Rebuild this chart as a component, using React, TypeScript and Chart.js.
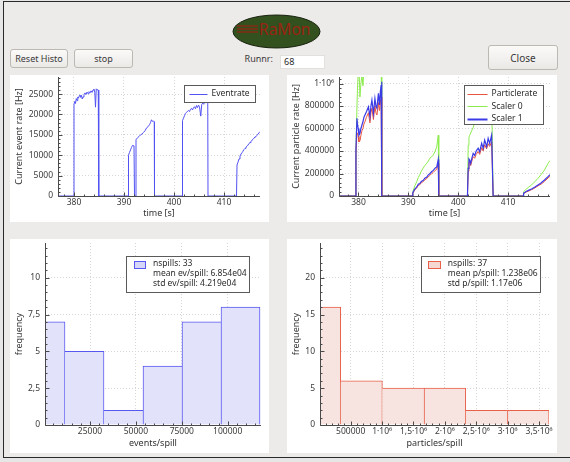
import React, { useEffect, useRef } from "react";
import { Chart, registerables } from "chart.js";

Chart.register(...registerables);

const FONT = '"Noto Sans", "Open Sans", "DejaVu Sans", sans-serif';

// ---------- Event rate (top left) ----------
const eventTime = [
  376.8, 379.95,
  380.0, 380.15, 380.3, 380.45, 380.6, 380.75, 380.9, 381.05, 381.2, 381.35, 381.5, 381.65, 381.8, 382.0, 382.2,
  382.4, 382.6, 382.8, 383.0, 383.2, 383.4, 383.6, 383.8, 384.0, 384.15, 384.3, 384.45, 384.6, 384.85, 384.95,
  390.8,
  390.9, 391.1, 391.3, 391.5, 391.7, 392.0, 392.1, 392.3, 392.4, 392.7, 393.0, 393.3, 393.6, 393.9, 394.2, 394.5,
  394.8, 395.1, 395.3, 395.5, 395.7, 395.9, 396.05, 396.1,
  401.6,
  401.7, 401.9, 402.1, 402.3, 402.5, 402.7, 402.9, 403.1, 403.3, 403.5, 403.7, 403.9, 404.1, 404.3, 404.5, 404.7,
  404.9, 405.1, 405.35, 405.55, 405.75, 405.95, 406.15, 406.35, 406.55, 406.75, 406.8,
  412.5,
  412.6, 412.8, 413.0, 413.2, 413.4, 413.6, 413.8, 414.0, 414.2, 414.4, 414.6, 414.8, 415.0, 415.2, 415.4, 415.6,
  415.8, 416.0, 416.2, 416.4, 416.6, 416.8, 417.0, 417.2,
];
const eventRate = [
  0, 0,
  22500, 23200, 22700, 23900, 23400, 24300, 24000, 24600, 24800, 24200, 24700, 23800, 24300, 24900, 25300,
  24900, 25500, 25100, 25600, 25300, 25800, 25400, 26000, 26200, 25500, 21800, 26300, 26100, 26000, 0,
  0,
  10000, 10700, 11300, 11900, 12400, 12300, 0, 0, 13800, 14300, 14600, 15000, 15200, 15600, 16000, 16700,
  17000, 17500, 18000, 18700, 18300, 18400, 18200, 0,
  0,
  18500, 19100, 19700, 20300, 20500, 20800, 21000, 20700, 21300, 21500, 21100, 21700, 21900, 21400, 22200, 21700,
  22300, 21900, 19600, 22500, 22800, 22500, 23200, 22800, 23300, 23100, 0,
  0,
  7600, 8300, 9100, 9800, 10300, 10600, 11000, 11400, 11700, 12000, 12200, 12500, 12900, 13100, 13400, 13700,
  13900, 14200, 14500, 14600, 14900, 15200, 15500, 15800,
];

// ---------- Particle rate (top right) ----------
const particleTime = [
  376.1, 379.4,
  379.5, 379.7, 379.8, 379.95, 380.1, 380.3, 380.5, 380.7, 380.9, 381.1, 381.3, 381.6, 382.0,
  382.3, 382.5, 382.7, 383.0, 383.3, 383.5, 383.7, 384.0, 384.2, 384.4, 384.55, 384.65, 384.7,
  390.8,
  390.9, 391.3, 391.7, 392.0, 392.3, 392.6, 393.0, 393.3, 393.7, 394.0, 394.3, 394.7, 395.0, 395.4, 395.7, 396.0, 396.1,
  401.85,
  402.0, 402.15, 402.3, 402.5, 402.7, 403.0, 403.3, 403.6, 404.0, 404.3, 404.7, 405.0, 405.3, 405.7, 406.0, 406.3, 406.7, 407.0,
  413.0,
  413.1, 413.6, 414.2, 414.7, 415.3, 416.0, 416.6, 417.3, 418.0, 418.4,
];
const particleRate = [
  0, 0,
  380000, 560000, 560000, 530000, 480000, 490000, 540000, 580000, 600000, 640000, 660000, 700000, 740000,
  650000, 740000, 780000, 680000, 800000, 740000, 720000, 830000, 760000, 840000, 860000, 880000, 0,
  0,
  25000, 55000, 72000, 95000, 100000, 118000, 128000, 145000, 155000, 172000, 182000, 200000, 210000, 228000, 238000, 290000, 0,
  0,
  220000, 300000, 295000, 270000, 305000, 350000, 335000, 370000, 395000, 370000, 430000, 400000, 455000, 420000, 465000, 440000, 480000, 0,
  0,
  20000, 35000, 46000, 56000, 70000, 90000, 105000, 130000, 160000, 175000,
];
const scaler0Rate = [
  0, 0,
  420000, 800000, 950000, 1100000, 1150000, 880000, 1000000, 1080000, 980000, 1120000, 1150000, 1200000, 1250000,
  1180000, 1250000, 1300000, 1220000, 1320000, 1280000, 1250000, 1350000, 1300000, 1380000, 1400000, 1420000, 0,
  0,
  40000, 90000, 130000, 165000, 190000, 220000, 250000, 270000, 292000, 310000, 335000, 350000, 365000, 400000, 440000, 540000, 0,
  0,
  450000, 520000, 540000, 560000, 580000, 610000, 650000, 690000, 740000, 720000, 790000, 760000, 830000, 790000, 860000, 820000, 880000, 0,
  0,
  38000, 60000, 82000, 98000, 125000, 157000, 190000, 231000, 290000, 315000,
];
const scaler1Rate = [
  0, 0,
  420000, 690000, 640000, 600000, 540000, 557000, 600000, 631000, 660000, 700000, 720000, 750000, 794000,
  705000, 800000, 853000, 735000, 868000, 800000, 780000, 913000, 809000, 930000, 987000, 1016000, 0,
  0,
  30000, 62000, 80000, 104000, 110000, 130000, 140000, 158000, 168000, 188000, 198000, 218000, 228000, 250000, 258000, 325000, 0,
  0,
  246000, 330000, 320000, 290000, 330000, 379000, 360000, 400000, 424000, 394000, 468000, 424000, 498000, 438000, 513000, 468000, 542000, 0,
  0,
  24000, 40000, 52000, 62000, 78000, 98000, 115000, 142000, 172000, 190000,
];

// ---------- Histograms ----------
const eventBinCenters = [759, 22003, 43246, 64489, 85732, 106975];
const eventBinCounts = [7, 5, 1, 4, 7, 8];
const particleBinCenters = [8700, 672700, 1336700, 2000700, 2664700, 3328700];
const particleBinCounts = [16, 6, 5, 5, 2, 2];
const eventStats = ["nspills: 33", "mean ev/spill: 6.854e04", "std ev/spill: 4.219e04"];
const particleStats = ["nspills: 37", "mean p/spill: 1.238e06", "std p/spill: 1.17e06"];

const fmtPlain = (v: number) => String(v);
const fmtComma = (v: number) => String(v).replace(".", ",");
const fmtSci = (v: number) => (v < 1e6 ? String(v) : String(v / 1e6).replace(".", ",") + "·10⁶");

const decorPlugin = {
  id: "decor",
  afterDatasetsDraw(chart: any, _args: any, opts: any) {
    const ctx: CanvasRenderingContext2D = chart.ctx;
    const area = chart.chartArea;
    const xs = chart.scales.x;
    const ys = chart.scales.y;
    ctx.save();
    const L = Math.round(area.left) + 0.5;
    const B = Math.round(area.bottom) + 0.5;
    ctx.strokeStyle = "#4a4a4a";
    ctx.lineWidth = 1;
    ctx.beginPath();
    ctx.moveTo(L, area.top);
    ctx.lineTo(L, B);
    ctx.lineTo(area.right, B);
    ctx.stroke();
    const drawTicks = (scale: any, minor: number, major: number, horizontal: boolean) => {
      const start = Math.ceil(scale.min / minor - 1e-9);
      for (let k = start; k * minor <= scale.max + 1e-9; k++) {
        const v = k * minor;
        const r = v / major;
        const isMajor = Math.abs(r - Math.round(r)) < 1e-6;
        const len = isMajor ? 4 : 2;
        const p = Math.round(scale.getPixelForValue(v)) + 0.5;
        ctx.beginPath();
        if (horizontal) {
          ctx.moveTo(p, B);
          ctx.lineTo(p, B - len);
        } else {
          ctx.moveTo(L, p);
          ctx.lineTo(L + len, p);
        }
        ctx.stroke();
      }
    };
    drawTicks(xs, opts.xMinor, opts.xMajor, true);
    drawTicks(ys, opts.yMinor, opts.yMajor, false);

    const lg = opts.legend;
    if (lg) {
      ctx.font = `${lg.fontSize}px ${FONT}`;
      const texts: string[] = lg.type === "lines" ? lg.items.map((i: any) => i.text) : lg.lines;
      const tw = Math.max(...texts.map((t) => ctx.measureText(t).width));
      const w = Math.round(lg.padL + lg.sample + lg.gap + tw + lg.padR);
      const x0 = Math.round(area.right - lg.right - w) + 0.5;
      const y0 = Math.round(area.top + lg.top) + 0.5;
      ctx.fillStyle = "#ffffff";
      ctx.fillRect(x0, y0, w, lg.h);
      ctx.strokeStyle = "#5a5a5a";
      ctx.lineWidth = 1;
      ctx.strokeRect(x0, y0, w, lg.h);
      ctx.textBaseline = "middle";
      ctx.textAlign = "left";
      const tx = x0 + lg.padL + lg.sample + lg.gap;
      if (lg.type === "lines") {
        lg.items.forEach((it: any, i: number) => {
          const cy = y0 + lg.firstRow + i * lg.rowH;
          ctx.strokeStyle = it.color;
          ctx.lineWidth = it.width;
          ctx.beginPath();
          ctx.moveTo(x0 + lg.padL, Math.round(cy) + 0.5);
          ctx.lineTo(x0 + lg.padL + lg.sample, Math.round(cy) + 0.5);
          ctx.stroke();
          ctx.fillStyle = "#2a2a2a";
          ctx.fillText(it.text, tx, cy);
        });
      } else {
        ctx.fillStyle = lg.fill;
        ctx.fillRect(Math.round(x0 + lg.padL), Math.round(y0 + lg.rectY), lg.sample, lg.rectH);
        ctx.strokeStyle = lg.stroke;
        ctx.lineWidth = 1;
        ctx.strokeRect(Math.round(x0 + lg.padL) + 0.5, Math.round(y0 + lg.rectY) + 0.5, lg.sample - 1, lg.rectH - 1);
        ctx.fillStyle = "#2a2a2a";
        lg.lines.forEach((t: string, i: number) => {
          ctx.fillText(t, tx, y0 + lg.firstRow + i * lg.rowH);
        });
      }
    }
    ctx.restore();
  },
};

function makeScale(
  min: number,
  max: number,
  step: number,
  title: string,
  fmt: (v: number) => string,
  fitSize: number,
  horizontal: boolean,
  titlePad: any
) {
  return {
    type: "linear",
    min,
    max,
    offset: false,
    ticks: {
      stepSize: step,
      includeBounds: false,
      autoSkip: false,
      maxRotation: 0,
      minRotation: 0,
      padding: horizontal ? 1 : 5,
      color: "#3a3a3a",
      font: { family: FONT, size: 8.5 },
      callback: (v: any) => fmt(Number(v)),
    },
    grid: { color: "#d6d6d6", lineWidth: 1, drawTicks: false, offset: false },
    border: { display: false, dash: [1, 2] },
    title: { display: true, text: title, color: "#333", font: { family: FONT, size: 9 }, padding: titlePad },
    afterBuildTicks: (s: any) => {
      const ticks: any[] = [];
      const start = Math.ceil(min / step - 1e-9);
      for (let k = start; k * step <= max + 1e-9; k++) ticks.push({ value: k * step });
      s.ticks = ticks;
    },
    afterFit: (s: any) => {
      if (horizontal) {
        s.height = fitSize;
        s.paddingLeft = 0;
        s.paddingRight = 0;
      } else {
        s.width = fitSize;
        s.paddingTop = 0;
        s.paddingBottom = 0;
      }
    },
  };
}

const commonOpts = {
  animation: false,
  responsive: false,
  maintainAspectRatio: false,
  events: [],
};

function eventRateConfig(): any {
  return {
    type: "line",
    data: {
      datasets: [
        {
          label: "Eventrate",
          data: eventTime.map((t, i) => ({ x: t, y: eventRate[i] })),
          borderColor: "#5252f2",
          borderWidth: 1,
          pointRadius: 0,
          tension: 0,
          fill: false,
        },
      ],
    },
    options: {
      ...commonOpts,
      layout: { padding: { top: 2, right: 9, left: 0, bottom: 0 } },
      plugins: {
        legend: { display: false },
        tooltip: { enabled: false },
        decor: {
          xMinor: 2, xMajor: 10, yMinor: 1000, yMajor: 5000,
          legend: {
            type: "lines", fontSize: 8.5, padL: 5, sample: 18, gap: 4, padR: 6, h: 17, firstRow: 8.5, rowH: 12.5, right: 5, top: 8,
            items: [{ text: "Eventrate", color: "#5252f2", width: 1 }],
          },
        },
      },
      scales: {
        x: makeScale(376.8, 417.2, 10, "time [s]", fmtPlain, 26, true, { top: 0, bottom: 3 }),
        y: makeScale(0, 29200, 5000, "Current event rate [Hz]", fmtPlain, 48, false, { top: 4, bottom: 0 }),
      },
    },
    plugins: [decorPlugin],
  };
}

function particleRateConfig(): any {
  const mk = (label: string, values: number[], color: string, width: number, order: number) => ({
    label,
    data: particleTime.map((t, i) => ({ x: t, y: values[i] })),
    borderColor: color,
    borderWidth: width,
    pointRadius: 0,
    tension: 0,
    fill: false,
    order,
  });
  return {
    type: "line",
    data: {
      datasets: [
        mk("Particlerate", particleRate, "#e8543e", 1, 1),
        mk("Scaler 0", scaler0Rate, "#8cec4e", 1, 2),
        mk("Scaler 1", scaler1Rate, "#3a3ae6", 1.2, 0),
      ],
    },
    options: {
      ...commonOpts,
      layout: { padding: { top: 2, right: 7, left: 0, bottom: 0 } },
      plugins: {
        legend: { display: false },
        tooltip: { enabled: false },
        decor: {
          xMinor: 2, xMajor: 10, yMinor: 40000, yMajor: 200000,
          legend: {
            type: "lines", fontSize: 8.5, padL: 3, sample: 20, gap: 4, padR: 6, h: 39, firstRow: 8.3, rowH: 12.5, right: 7, top: 8,
            items: [
              { text: "Particlerate", color: "#e8543e", width: 1 },
              { text: "Scaler 0", color: "#8cec4e", width: 1 },
              { text: "Scaler 1", color: "#3a3ae6", width: 2 },
            ],
          },
        },
      },
      scales: {
        x: makeScale(376.1, 418.4, 10, "time [s]", fmtPlain, 26, true, { top: 0, bottom: 3 }),
        y: makeScale(0, 1058000, 200000, "Current particle rate [Hz]", fmtSci, 52, false, { top: 4, bottom: 0 }),
      },
    },
    plugins: [decorPlugin],
  };
}

function histConfig(
  centers: number[],
  counts: number[],
  fill: string,
  stroke: string,
  xMin: number,
  xMax: number,
  xStep: number,
  xMinor: number,
  xTitle: string,
  xFmt: (v: number) => string,
  yMax: number,
  yStep: number,
  yMinor: number,
  yWidth: number,
  rightPad: number,
  legend: any
): any {
  const last = counts.length - 1;
  return {
    type: "bar",
    data: {
      datasets: [
        {
          label: "hist",
          data: centers.map((c, i) => ({ x: c, y: counts[i] })),
          backgroundColor: fill,
          borderColor: stroke,
          borderWidth: (ctx: any) => {
            const i = ctx.dataIndex;
            return {
              top: 1,
              bottom: 0,
              left: i === 0 || counts[i] >= counts[i - 1] ? 1 : 0,
              right: i === last || counts[i] > counts[i + 1] ? 1 : 0,
            };
          },
          barThickness: "flex",
          barPercentage: 1,
          categoryPercentage: 1,
          clip: 0,
        },
      ],
    },
    options: {
      ...commonOpts,
      layout: { padding: { top: 4, right: rightPad, left: 0, bottom: 0 } },
      plugins: {
        legend: { display: false },
        tooltip: { enabled: false },
        decor: { xMinor, xMajor: xStep, yMinor, yMajor: yStep, legend },
      },
      scales: {
        x: makeScale(xMin, xMax, xStep, xTitle, xFmt, 28, true, { top: 0, bottom: 4.3 }),
        y: makeScale(0, yMax, yStep, "frequency", fmtComma, yWidth, false, { top: 4, bottom: 0 }),
      },
    },
    plugins: [decorPlugin],
  };
}

function eventHistConfig() {
  return histConfig(
    eventBinCenters, eventBinCounts, "#e2e2fb", "#5858f0",
    487, 118140, 25000, 5000, "events/spill", fmtPlain,
    12.36, 2.5, 0.5, 35, 8,
    {
      type: "rect", fontSize: 8.5, padL: 7, sample: 12, gap: 7.5, padR: 3, h: 36, firstRow: 7.3, rowH: 10,
      rectY: 4.7, rectH: 8, right: 11.7, top: 13, fill: "#d6d6f8", stroke: "#5858f0", lines: eventStats,
    }
  );
}

function particleHistConfig() {
  return histConfig(
    particleBinCenters, particleBinCounts, "#f7e3df", "#e8604a",
    10888, 3659000, 500000, 100000, "particles/spill", fmtSci,
    24.71, 5, 1, 33, 8,
    {
      type: "rect", fontSize: 8.5, padL: 6.6, sample: 13, gap: 6.6, padR: 3, h: 36, firstRow: 7.3, rowH: 10,
      rectY: 4.5, rectH: 8, right: 9, top: 13, fill: "#f6d8d2", stroke: "#e8604a", lines: particleStats,
    }
  );
}

function ChartBox({ x, y, w, h, make }: { x: number; y: number; w: number; h: number; make: () => any }) {
  const ref = useRef<HTMLCanvasElement | null>(null);
  useEffect(() => {
    const c = new Chart(ref.current as HTMLCanvasElement, make());
    return () => c.destroy();
  }, []);
  return (
    <div style={{ position: "absolute", left: x, top: y, width: w, height: h, background: "#ffffff" }}>
      <canvas ref={ref} width={w} height={h} style={{ display: "block", width: w, height: h }} />
    </div>
  );
}

function Button({ x, y, w, h, label, fs }: { x: number; y: number; w: number; h: number; label: string; fs: number }) {
  return (
    <div
      style={{
        position: "absolute",
        left: x,
        top: y,
        width: w,
        height: h,
        boxSizing: "border-box",
        border: "1px solid #bcb8b2",
        borderRadius: 3,
        background: "linear-gradient(#fbfaf9, #ebe9e6)",
        display: "flex",
        alignItems: "center",
        justifyContent: "center",
        fontSize: fs,
        color: "#3a3a3a",
        fontFamily: FONT,
      }}
    >
      {label}
    </div>
  );
}

export default function App() {
  return (
    <div
      style={{
        position: "fixed",
        left: 0,
        top: 0,
        width: 570,
        height: 462,
        background: "#e6e6e6",
        overflow: "hidden",
        fontFamily: FONT,
      }}
    >
      <div
        style={{
          position: "absolute",
          left: 3,
          top: 1,
          width: 580,
          height: 457,
          boxSizing: "border-box",
          background: "#edebe9",
          borderLeft: "1px solid #2a2a2a",
          borderTop: "1px solid #2a2a2a",
          borderBottom: "1px solid #2a2a2a",
        }}
      />
      <svg style={{ position: "absolute", left: 230, top: 12 }} width={95} height={40}>
        <ellipse cx={46.5} cy={19.5} rx={43.5} ry={16.5} fill="#33501f" stroke="#18220f" strokeWidth={1} />
        <line x1={7} y1={14} x2={28} y2={14} stroke="#9a2412" strokeWidth={1.2} />
        <line x1={7} y1={17} x2={28} y2={17} stroke="#9a2412" strokeWidth={1.2} />
        <line x1={7} y1={20} x2={28} y2={20} stroke="#9a2412" strokeWidth={1.2} />
        <text x={29} y={23} fill="#9a2412" fontSize={15.5} fontFamily={FONT}>
          RaMon
        </text>
      </svg>
      <Button x={10} y={49} w={58} h={19} label="Reset Histo" fs={9} />
      <Button x={74} y={49} w={59} h={19} label="stop" fs={9} />
      <Button x={488} y={45} w={70} h={25} label="Close" fs={10} />
      <div
        style={{
          position: "absolute",
          left: 236,
          top: 52,
          width: 37,
          height: 13,
          fontSize: 9,
          color: "#3a3a3a",
          textAlign: "right",
          lineHeight: "13px",
        }}
      >
        Runnr:
      </div>
      <div
        style={{
          position: "absolute",
          left: 280,
          top: 55,
          width: 45,
          height: 14,
          boxSizing: "border-box",
          background: "#ffffff",
          border: "1px solid #e2e0dc",
          fontSize: 9,
          color: "#2a2a2a",
          lineHeight: "12px",
          paddingLeft: 3,
        }}
      >
        68
      </div>
      <ChartBox x={10} y={75} w={259} h={147} make={eventRateConfig} />
      <ChartBox x={287} y={75} w={270} h={147} make={particleRateConfig} />
      <ChartBox x={10} y={239} w={259} h={214} make={eventHistConfig} />
      <ChartBox x={287} y={239} w={270} h={214} make={particleHistConfig} />
    </div>
  );
}
